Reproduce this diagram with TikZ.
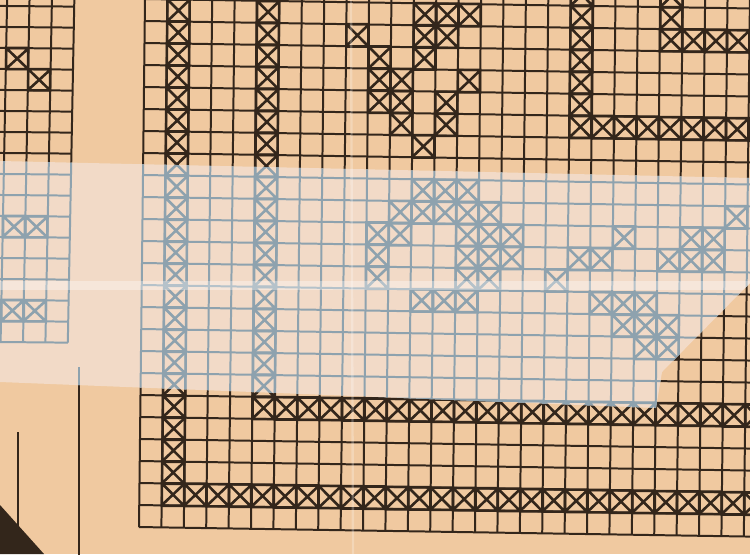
\documentclass[tikz,border=0pt]{standalone}
\usetikzlibrary{calc}
\definecolor{paper}{HTML}{F0C9A0}
\definecolor{tapepaper}{HTML}{F2DAC7}
\definecolor{ink}{HTML}{33261B}
\definecolor{tapeink}{HTML}{8EA2AE}
\colorlet{sheetink}{ink}
\tikzset{
  gridline/.style={draw=sheetink, line width=1.7pt},
  stitch/.style={draw=sheetink, line width=2.2pt},
}
\newcommand{\xcell}[2]{\draw[stitch] (#1,#2) rectangle ++(1,1) (#1,#2) -- ++(1,1) (#1+1,#2) -- ++(-1,1);}
\newcommand{\drawsheet}{%
  % right page
  \begin{scope}[shift={(145,-1)}, x={(0.672cm,-0.0105cm)}, y={(-0.0075cm,-0.66cm)}]
    \foreach \i in {0,...,27} \draw[gridline] (\i,-1) -- (\i,24);
    \foreach \j in {-1,...,24} \draw[gridline] (0,\j) -- (28,\j);
    % borders
    \foreach \j in {-1,...,22} \xcell{1}{\j};
    \foreach \j in {-1,...,18} \xcell{5}{\j};
    \foreach \i in {6,...,27} \xcell{\i}{18};
    \foreach \i in {2,...,27} \xcell{\i}{22};
    \foreach \j in {-1,...,5} \xcell{19}{\j};
    \foreach \i in {20,...,27} \xcell{\i}{5};
    \foreach \j in {-1,...,1} \xcell{23}{\j};
    \foreach \i in {24,...,27} \xcell{\i}{1};
    % motif
    \foreach \i/\j in {9/1,10/2,10/3,10/4,11/3,11/4,11/5,12/0,12/1,12/2,12/6,13/0,13/1,13/4,13/5,14/0,14/3,
      12/8,13/8,14/8,11/9,12/9,13/9,14/9,15/9,10/10,11/10,14/10,15/10,16/10,10/11,14/11,15/11,16/11,
      10/12,14/12,15/12,12/13,13/13,14/13,18/12,19/11,20/11,21/10,23/11,24/11,25/11,24/10,25/10,26/9,
      20/13,21/13,22/13,21/14,22/14,23/14,22/15,23/15}
      \xcell{\i}{\j};
  \end{scope}
  % left page
  \begin{scope}[shift={(7,6)}, x={(0.672cm,-0.006cm)}, y={(-0.012cm,-0.63cm)}]
    \foreach \i in {-1,...,3} \draw[gridline] (\i,-1) -- (\i,16);
    \foreach \j in {-1,...,16} \draw[gridline] (-1.5,\j) -- (3,\j);
    \foreach \i/\j in {0/2,1/3,0/10,1/10,0/14,1/14} \xcell{\i}{\j};
  \end{scope}
}

\begin{document}
\begin{tikzpicture}[x=0.03cm, y=-0.03cm]
  \useasboundingbox (0,0) rectangle (750,554);
  \clip (0,0) rectangle (750,554);
  \fill[paper] (0,0) rectangle (750,554);
  \drawsheet
  % lines at lower left
  \draw[gridline] (79,367) -- (79,560);
  \draw[gridline] (18,432) -- (18,530);
  \fill[ink] (0,505) -- (44,554) -- (0,554) -- cycle;
  % tape
  \begin{scope}
    \clip (0,161) -- (750,178) -- (750,283) -- (662,372) -- (656,408) -- (0,382) -- cycle;
    \fill[tapepaper] (0,0) rectangle (750,554);
    \colorlet{sheetink}{tapeink}
    \drawsheet
    \draw[gridline] (79,367) -- (79,400);
    \fill[white, opacity=0.35] (0,281) rectangle (750,290);
  \end{scope}
  % fold
  \draw[white, opacity=0.25, line width=2pt] (351,0) -- (353,554);
\end{tikzpicture}
\end{document}
